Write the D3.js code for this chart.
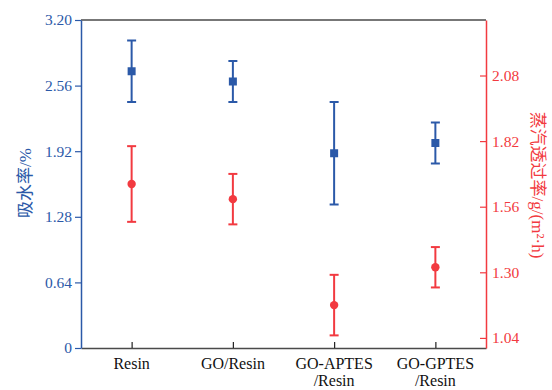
<!DOCTYPE html>
<html>
<head>
<meta charset="utf-8">
<script src="https://cdn.jsdelivr.net/npm/d3@7"></script>
<style>
    body { margin: 0; background: #fff; }
    text { font-family: "Liberation Serif", "Noto Sans CJK SC", serif; }
</style>
</head>
<body>
<svg id="chart"></svg>
<script>
// samples on the x axis (second line after the break)
var categories = ["Resin", "GO/Resin", "GO-APTES\n/Resin", "GO-GPTES\n/Resin"];

// water absorption, left axis
var absorption = [2.70, 2.60, 1.90, 2.00];
var absorptionErr = [0.30, 0.20, 0.50, 0.20];

// vapour transmission, right axis
var vapour = [1.65, 1.59, 1.17, 1.32];
var vapourErr = [0.15, 0.10, 0.12, 0.08];

var leftTicks = [0, 0.64, 1.28, 1.92, 2.56, 3.20];
var rightTicks = [1.04, 1.30, 1.56, 1.82, 2.08];

var blue = "#2b59a8";
var red = "#f23a40";
var axisGray = "#4a4a4a";

var width = 552, height = 390;
var margin = {top: 20, right: 66, bottom: 42, left: 81};
var w = width - margin.left - margin.right;
var h = height - margin.top - margin.bottom;

var svg = d3.select("#chart")
    .attr("width", width)
    .attr("height", height)
    .append("g")
    .attr("transform", "translate(" + margin.left + "," + margin.top + ")");

var x = d3.scalePoint().domain(d3.range(categories.length)).range([0, w]).padding(0.5);
var yLeft = d3.scaleLinear().domain([0, 3.2]).range([h, 0]);
var yRight = d3.scaleLinear().domain([1.0, 2.3]).range([h, 0]);

// top border
svg.append("line")
    .attr("x1", 0).attr("x2", w)
    .attr("y1", 0).attr("y2", 0)
    .style("stroke", axisGray).style("stroke-width", 1.5);

// bottom axis, ticks point inward
var gx = svg.append("g")
    .attr("transform", "translate(0," + h + ")")
    .call(d3.axisBottom(x).tickSizeInner(-6).tickSizeOuter(0).tickFormat(""));
gx.select(".domain").style("stroke", axisGray).style("stroke-width", 1.5);
gx.selectAll(".tick line").style("stroke", "#222").style("stroke-width", 1.2);

categories.forEach(function (c, i) {
    var lines = c.split("\n");
    var t = svg.append("text")
        .attr("x", x(i))
        .attr("y", h + 21)
        .attr("text-anchor", "middle")
        .style("font-size", "16px")
        .style("fill", "#111");
    lines.forEach(function (l, j) {
        t.append("tspan")
            .attr("x", x(i))
            .attr("dy", j === 0 ? 0 : 17)
            .text(l);
    });
});

// left axis
var gl = svg.append("g")
    .call(d3.axisLeft(yLeft).tickValues(leftTicks).tickSizeInner(6).tickSizeOuter(0).tickPadding(3)
        .tickFormat(function (d) { return d === 0 ? "0" : d.toFixed(2); }));
gl.select(".domain").style("stroke", blue).style("stroke-width", 1.5);
gl.selectAll(".tick line").style("stroke", blue).style("stroke-width", 1.2);
gl.selectAll(".tick text").style("fill", blue).style("font-size", "15.5px")
    .style("font-family", "'Liberation Serif', serif");

// right axis, ticks point inward
var gr = svg.append("g")
    .attr("transform", "translate(" + w + ",0)")
    .call(d3.axisRight(yRight).tickValues(rightTicks).tickSizeInner(-6).tickSizeOuter(0).tickPadding(6)
        .tickFormat(d3.format(".2f")));
gr.select(".domain").style("stroke", red).style("stroke-width", 1.5);
gr.selectAll(".tick line").style("stroke", red).style("stroke-width", 1.2);
gr.selectAll(".tick text").style("fill", red).style("font-size", "15.5px")
    .style("font-family", "'Liberation Serif', serif");

// axis titles
svg.append("text")
    .attr("transform", "translate(" + (25 - margin.left) + "," + (h / 2 - 1) + ") rotate(-90)")
    .attr("text-anchor", "middle")
    .attr("dy", "0.35em")
    .style("fill", blue)
    .style("font-size", "17px")
    .text("吸水率/%");

svg.append("text")
    .attr("transform", "translate(" + (w + 52) + "," + (h / 2 + 1) + ") rotate(90)")
    .attr("text-anchor", "middle")
    .attr("dy", "0.35em")
    .style("fill", red)
    .style("font-size", "17px")
    .text("蒸汽透过率/g/(m²·h)");

// error bars and markers
function drawSeries(values, errs, scale, color, shape) {
    var g = svg.append("g");
    var cap = 4.5;
    values.forEach(function (v, i) {
        var cx = x(i);
        var yTop = scale(v + errs[i]);
        var yBot = scale(v - errs[i]);
        g.append("line").attr("x1", cx).attr("x2", cx).attr("y1", yTop).attr("y2", yBot)
            .style("stroke", color).style("stroke-width", 2);
        [yTop, yBot].forEach(function (yy) {
            g.append("line").attr("x1", cx - cap).attr("x2", cx + cap).attr("y1", yy).attr("y2", yy)
                .style("stroke", color).style("stroke-width", 2);
        });
        if (shape === "square") {
            g.append("rect").attr("x", cx - 4).attr("y", scale(v) - 4)
                .attr("width", 8).attr("height", 8).style("fill", color);
        } else {
            g.append("circle").attr("cx", cx).attr("cy", scale(v)).attr("r", 4.2)
                .style("fill", color);
        }
    });
}

drawSeries(absorption, absorptionErr, yLeft, blue, "square");
drawSeries(vapour, vapourErr, yRight, red, "circle");
</script>
</body>
</html>
